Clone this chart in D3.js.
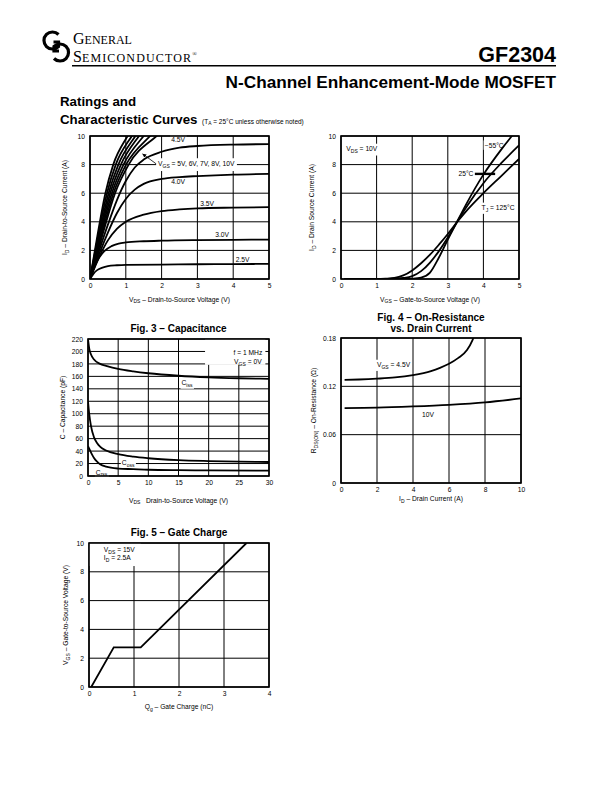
<!DOCTYPE html>
<html>
<head>
<meta charset="utf-8">
<script src="https://cdn.jsdelivr.net/npm/d3@7"></script>
<style>
  body { margin: 0; background: #fff; }
  svg { display: block; }
  text { font-family: "Liberation Sans", Arial, Helvetica, sans-serif; fill: #000; }
  text.serif { font-family: "Liberation Serif", "DejaVu Serif", serif; }
</style>
</head>
<body>
<svg id="page" width="612" height="792"></svg>
<script>
// ---- Fig. 1: output characteristics, ID vs VDS ----
const fig1XTicks = [0, 1, 2, 3, 4, 5];
const fig1YTicks = [0, 2, 4, 6, 8, 10];
const vgs25 = [[0,0],[0.1,0.38],[0.2,0.62],[0.35,0.8],[0.5,0.9],[0.75,0.96],[1,0.99],[2,1.01],[3,1.03],[4,1.04],[5,1.06]];
const vgs30 = [[0,0],[0.1,0.7],[0.2,1.25],[0.4,1.95],[0.6,2.3],[0.8,2.48],[1,2.56],[1.5,2.64],[2,2.68],[3,2.72],[4,2.74],[5,2.76]];
const vgs35 = [[0,0],[0.25,1.5],[0.5,2.7],[0.75,3.5],[1,4.0],[1.5,4.5],[2,4.75],[2.5,4.87],[3,4.94],[4,4.99],[5,5.02]];
const vgs40 = [[0,0],[0.25,1.7],[0.5,3.25],[0.75,4.6],[1,5.6],[1.25,6.25],[1.5,6.65],[2,7.0],[2.5,7.13],[3,7.2],[4,7.3],[5,7.35]];
const vgs45 = [[0,0],[0.25,1.95],[0.5,3.8],[0.75,5.5],[1,6.85],[1.25,7.8],[1.5,8.35],[2,8.9],[2.5,9.18],[3,9.3],[4,9.4],[5,9.43]];
// the steep bundle (VGS = 5V ... 10V), least steep first
const steepCurves = [
  [[0,0],[0.34,3],[0.7,6],[1.08,8],[1.86,10],[2.33,11]],
  [[0,0],[0.315,3],[0.655,6],[1.008,8],[1.68,10],[2.08,11]],
  [[0,0],[0.29,3],[0.61,6],[0.936,8],[1.5,10],[1.84,11]],
  [[0,0],[0.27,3],[0.565,6],[0.864,8],[1.37,10],[1.67,11]],
  [[0,0],[0.25,3],[0.52,6],[0.792,8],[1.27,10],[1.56,11]],
  [[0,0],[0.225,3],[0.475,6],[0.72,8],[1.17,10],[1.44,11]],
  [[0,0],[0.205,3],[0.43,6],[0.65,8],[1.05,10],[1.29,11]]
];

// ---- Fig. 2: transfer characteristics, ID vs VGS ----
const fig2XTicks = [0, 1, 2, 3, 4, 5];
const fig2YTicks = [0, 2, 4, 6, 8, 10];
const tj125 = [[0.1,0],[1.0,0],[1.25,0.02],[1.5,0.07],[1.75,0.25],[2,0.6],[2.25,1.1],[2.5,1.7],[2.75,2.4],[3,3.15],[3.25,3.95],[3.5,4.7],[4,6.0],[4.5,7.2],[5,8.4]];
const tj25 = [[0.1,0],[1.3,0],[1.5,0.02],[1.75,0.07],[2,0.2],[2.25,0.55],[2.5,1.15],[2.75,1.95],[3,2.9],[3.25,3.95],[3.5,4.95],[4,6.7],[4.5,8.1],[5,9.35]];
const tjm55 = [[0.1,0],[1.8,0],[2,0.02],[2.25,0.1],[2.5,0.45],[2.75,1.5],[3,2.75],[3.25,3.95],[3.5,5.15],[4,7.3],[4.5,9.05],[4.8,10],[5,10.6]];

// ---- Fig. 3: capacitance ----
const fig3XTicks = [0, 5, 10, 15, 20, 25, 30];
const fig3YTicks = [0, 20, 40, 60, 80, 100, 120, 140, 160, 180, 200, 220];
const ciss = [[0,220],[0.2,205],[0.5,195],[1,187],[2,180],[3,177],[5,172],[7.5,168],[10,165],[15,161],[20,158.5],[25,157],[30,156]];
const coss = [[0,120],[0.2,100],[0.5,80],[1,62],[1.5,53],[2,47],[3,41],[5,35],[7.5,31],[10,28.5],[15,25.5],[20,24],[25,23],[30,22.5]];
const crss = [[0,48],[0.3,42],[0.7,34],[1,29],[1.5,23],[2,19],[3,15],[5,12],[7.5,11],[10,10],[15,9.3],[20,9],[30,8.7]];

// ---- Fig. 4: on-resistance vs drain current ----
const fig4XTicks = [0, 2, 4, 6, 8, 10];
const fig4YTicks = [0, 0.06, 0.12, 0.18];
const rdsVgs45 = [[0.2,0.128],[1,0.1285],[2,0.1295],[3,0.131],[4,0.134],[5,0.139],[5.5,0.143],[6,0.148],[6.5,0.155],[7,0.165],[7.3,0.177],[7.45,0.186]];
const rdsVgs10 = [[0.2,0.093],[2,0.0935],[4,0.095],[6,0.097],[8,0.1],[10,0.105]];

// ---- Fig. 5: gate charge ----
const fig5XTicks = [0, 1, 2, 3, 4];
const fig5YTicks = [0, 2, 4, 6, 8, 10];
const gateCharge = [[0.05,0],[0.55,2.75],[1.15,2.75],[3.5,10]];

const svg = d3.select('#page');
const SMALL = 6.7;

// text with subscripts: parts = [[text, isSub], ...]
function rich(sel, parts) {
  let down = false;
  parts.forEach(p => {
    const t = sel.append('tspan').text(p[0]);
    if (p[1]) {
      t.attr('font-size', '0.75em');
      if (!down) { t.attr('dy', 1.8); down = true; }
    } else if (down) {
      t.attr('dy', -1.8); down = false;
    }
  });
}

// ---- header ----
const logo = svg.append('g').attr('fill', 'none').attr('stroke', '#000').attr('stroke-width', 3.2);
logo.append('path').attr('d', 'M58.5,34.5 A8.5,8.5 0 1 0 58.5,46.5 L58.5,42 L53.5,42');
logo.append('path').attr('d', 'M54,58.5 A8.5,8.5 0 1 0 54,46.5 L54,51 L59,51');

// company name: small caps drawn by size
const gen = svg.append('text').attr('class', 'serif').attr('x', 73).attr('y', 44);
gen.append('tspan').attr('font-size', 16).text('G');
gen.append('tspan').attr('font-size', 12).text('ENERAL');
const semi = svg.append('text').attr('class', 'serif').attr('x', 73).attr('y', 62);
semi.append('tspan').attr('font-size', 16).text('S');
semi.append('tspan').attr('font-size', 12).attr('letter-spacing', 1.15).text('EMICONDUCTOR');
semi.append('tspan').attr('font-size', 6).attr('dy', -6).text('®');

svg.append('text').attr('x', 556).attr('y', 61.5).attr('text-anchor', 'end')
  .attr('font-size', 21.5).attr('font-weight', 'bold').text('GF2304');
svg.append('line').attr('x1', 72).attr('x2', 556).attr('y1', 65.8).attr('y2', 65.8)
  .attr('stroke', '#000').attr('stroke-width', 1.6);
svg.append('text').attr('x', 556).attr('y', 88).attr('text-anchor', 'end')
  .attr('font-size', 17.2).attr('font-weight', 'bold').text('N-Channel Enhancement-Mode MOSFET');
svg.append('text').attr('x', 60).attr('y', 106).attr('font-size', 13.3)
  .attr('font-weight', 'bold').text('Ratings and');
svg.append('text').attr('x', 60).attr('y', 124).attr('font-size', 13.3)
  .attr('font-weight', 'bold').text('Characteristic Curves');
const note = svg.append('text').attr('x', 202).attr('y', 123.5).attr('font-size', 6.5);
rich(note, [['(T'], ['A', 1], [' = 25°C unless otherwise noted)']]);

// ---- chart scaffold ----
function makeChart(o) {
  const x = d3.scaleLinear().domain(o.xDomain).range([o.left, o.left + o.width]);
  const y = d3.scaleLinear().domain(o.yDomain).range([o.top + o.height, o.top]);
  const g = svg.append('g');

  g.append('clipPath').attr('id', 'clip' + o.id)
    .append('rect').attr('x', o.left).attr('y', o.top).attr('width', o.width).attr('height', o.height);

  // 1. grid
  const grid = g.append('g').attr('stroke', '#000').attr('stroke-width', 1);
  grid.selectAll('line.v').data(o.xTicks).join('line').attr('class', 'v')
    .attr('x1', d => x(d)).attr('x2', d => x(d))
    .attr('y1', o.top).attr('y2', o.top + o.height);
  grid.selectAll('line.h').data(o.yTicks).join('line').attr('class', 'h')
    .attr('x1', o.left).attr('x2', o.left + o.width)
    .attr('y1', d => y(d)).attr('y2', d => y(d));

  const boxes = g.append('g').attr('fill', '#fff');
  const curves = g.append('g').attr('clip-path', `url(#clip${o.id})`)
    .attr('fill', 'none').attr('stroke', '#000').attr('stroke-width', 1.8);
  const texts = g.append('g');

  g.append('rect').attr('x', o.left).attr('y', o.top).attr('width', o.width).attr('height', o.height)
    .attr('fill', 'none').attr('stroke', '#000').attr('stroke-width', 1.6);

  // 2. axes (labels only, the grid does the ticks)
  const xa = g.append('g').attr('transform', `translate(0,${o.top + o.height})`)
    .call(d3.axisBottom(x).tickValues(o.xTicks).tickSize(0).tickPadding(4).tickFormat(o.xFormat || d3.format('')));
  const ya = g.append('g').attr('transform', `translate(${o.left},0)`)
    .call(d3.axisLeft(y).tickValues(o.yTicks).tickSize(0).tickPadding(5).tickFormat(o.yFormat || d3.format('')));
  [xa, ya].forEach(a => {
    a.select('.domain').remove();
    a.attr('font-family', null).attr('font-size', SMALL);
  });

  const xt = g.append('text').attr('x', o.left + o.width / 2).attr('y', o.xTitleY)
    .attr('text-anchor', 'middle').attr('font-size', SMALL);
  if (o.xTitlePre) xt.style('white-space', 'pre');
  rich(xt, o.xTitle);
  const yt = g.append('text')
    .attr('transform', `translate(${o.yTitleX},${o.top + o.height / 2}) rotate(-90)`)
    .attr('text-anchor', 'middle').attr('dy', '0.35em').attr('font-size', SMALL);
  rich(yt, o.yTitle);

  (o.title || []).forEach((t, i) => {
    g.append('text').attr('x', o.left + o.width / 2).attr('y', o.titleY + i * 11)
      .attr('text-anchor', 'middle').attr('font-size', 10).attr('font-weight', 'bold').text(t);
  });

  const line = d3.line().x(d => x(d[0])).y(d => y(d[1])).curve(d3.curveMonotoneX);
  return { x, y, g, boxes, curves, texts, line };
}

function label(ch, xv, yv, parts, pad) {
  const t = ch.texts.append('text').attr('x', ch.x(xv)).attr('y', ch.y(yv))
    .attr('dy', '0.35em').attr('font-size', SMALL);
  rich(t, parts);
  if (pad != null) {
    const b = t.node().getBBox();
    ch.boxes.append('rect').attr('x', b.x - pad).attr('y', b.y - pad)
      .attr('width', b.width + 2 * pad).attr('height', b.height + 2 * pad);
  }
  return t;
}

function drawCurves(ch, list, curve) {
  const line = curve ? ch.line.curve(curve) : ch.line;
  ch.curves.selectAll(null).data(list).join('path').attr('d', d => line(d));
}

// ---- Fig. 1 ----
const c1 = makeChart({
  id: 1, left: 90, top: 136, width: 179, height: 143,
  xDomain: [0, 5], yDomain: [0, 10], xTicks: fig1XTicks, yTicks: fig1YTicks,
  xTitle: [['V'], ['DS', 1], [' – Drain-to-Source Voltage (V)']], xTitleY: 301.5,
  yTitle: [['I'], ['D', 1], [' – Drain-to-Source Current (A)']], yTitleX: 65
});
label(c1, 2.27, 9.72, [['4.5V']], 1.2);
label(c1, 1.9, 8.05, [['V'], ['GS', 1], [' = 5V, 6V, 7V, 8V, 10V']], 2);
label(c1, 2.27, 6.8, [['4.0V']], 1.2);
label(c1, 3.08, 5.3, [['3.5V']], 1);
label(c1, 3.5, 3.1, [['3.0V']], 1.2);
label(c1, 4.07, 1.35, [['2.5V']], 1.2);
drawCurves(c1, [vgs25, vgs30, vgs35, vgs40, vgs45].concat(steepCurves));
svg.append('defs').append('marker').attr('id', 'arrow')
  .attr('viewBox', '0 0 10 10').attr('refX', 9).attr('refY', 5)
  .attr('markerWidth', 5).attr('markerHeight', 5).attr('orient', 'auto')
  .append('path').attr('d', 'M0,0 L10,5 L0,10 z').attr('fill', '#000');
c1.texts.append('line')
  .attr('x1', c1.x(1.85)).attr('y1', c1.y(8.05))
  .attr('x2', c1.x(1.47)).attr('y2', c1.y(8.75))
  .attr('stroke', '#000').attr('stroke-width', 0.8).attr('marker-end', 'url(#arrow)');

// ---- Fig. 2 ----
const c2 = makeChart({
  id: 2, left: 341, top: 136, width: 178, height: 143,
  xDomain: [0, 5], yDomain: [0, 10], xTicks: fig2XTicks, yTicks: fig2YTicks,
  xTitle: [['V'], ['GS', 1], [' – Gate-to-Source Voltage (V)']], xTitleY: 301.5,
  yTitle: [['I'], ['D', 1], [' – Drain Source Current (A)']], yTitleX: 312
});
label(c2, 0.15, 9.1, [['V'], ['DS', 1], [' = 10V']], 1.5);
label(c2, 4.04, 9.35, [['−55°C']], 1.2);
label(c2, 3.3, 7.35, [['25°C']], 1.2);
label(c2, 3.95, 5.0, [['T'], ['J', 1], [' = 125°C']], 1.2);
drawCurves(c2, [tj125, tj25, tjm55]);
c2.texts.append('line')
  .attr('x1', c2.x(3.76)).attr('x2', c2.x(4.33)).attr('y1', c2.y(7.35)).attr('y2', c2.y(7.35))
  .attr('stroke', '#000').attr('stroke-width', 2.4);

// ---- Fig. 3 ----
const c3 = makeChart({
  id: 3, left: 88, top: 339, width: 181, height: 137,
  xDomain: [0, 30], yDomain: [0, 220], xTicks: fig3XTicks, yTicks: fig3YTicks,
  xTitle: [['V'], ['DS', 1], ['   Drain-to-Source Voltage (V)']], xTitleY: 502.5, xTitlePre: true,
  yTitle: [['C – Capacitance (pF)']], yTitleX: 63,
  title: ['Fig. 3 – Capacitance'], titleY: 331.5
});
c3.boxes.append('rect').attr('x', c3.x(19.4)).attr('y', c3.y(220))
  .attr('width', c3.x(29.4) - c3.x(19.4)).attr('height', c3.y(178.5) - c3.y(220));
c3.texts.append('text').attr('x', c3.x(26.5)).attr('y', c3.y(198)).attr('dy', '0.35em')
  .attr('text-anchor', 'middle').attr('font-size', SMALL).text('f = 1 MHz');
rich(c3.texts.append('text').attr('x', c3.x(26.5)).attr('y', c3.y(184)).attr('dy', '0.35em')
  .attr('text-anchor', 'middle').attr('font-size', SMALL), [['V'], ['GS', 1], [' = 0V']]);
label(c3, 15.5, 150, [['C'], ['iss', 1]], 1);
label(c3, 5.6, 21.5, [['C'], ['oss', 1]], 1);
label(c3, 1.3, 6, [['C'], ['rss', 1]], 1);
drawCurves(c3, [ciss, coss, crss]);

// ---- Fig. 4 ----
const c4 = makeChart({
  id: 4, left: 341, top: 338, width: 180, height: 145,
  xDomain: [0, 10], yDomain: [0, 0.18], xTicks: fig4XTicks, yTicks: fig4YTicks,
  yFormat: d => d === 0 ? '0' : d3.format('.2f')(d),
  xTitle: [['I'], ['D', 1], [' – Drain Current (A)']], xTitleY: 501,
  yTitle: [['R'], ['DS(ON)', 1], [' – On-Resistance (Ω)']], yTitleX: 314,
  title: ['Fig. 4 – On-Resistance', 'vs. Drain Current'], titleY: 320.5
});
label(c4, 2.0, 0.147, [['V'], ['GS', 1], [' = 4.5V']], 1.2);
label(c4, 4.5, 0.0846, [['10V']], 1.2);
drawCurves(c4, [rdsVgs45, rdsVgs10]);

// ---- Fig. 5 ----
const c5 = makeChart({
  id: 5, left: 89, top: 543, width: 180, height: 144,
  xDomain: [0, 4], yDomain: [0, 10], xTicks: fig5XTicks, yTicks: fig5YTicks,
  xTitle: [['Q'], ['g', 1], [' – Gate Charge (nC)']], xTitleY: 709,
  yTitle: [['V'], ['GS', 1], [' – Gate-to-Source Voltage (V)']], yTitleX: 66,
  title: ['Fig. 5 – Gate Charge'], titleY: 535.5
});
c5.boxes.append('rect').attr('x', c5.x(0)).attr('y', c5.y(10))
  .attr('width', c5.x(1.15) - c5.x(0)).attr('height', c5.y(8.4) - c5.y(10));
label(c5, 0.33, 9.55, [['V'], ['DS', 1], [' = 15V']]);
label(c5, 0.33, 9.0, [['I'], ['D', 1], [' = 2.5A']]);
drawCurves(c5, [gateCharge], d3.curveLinear);
</script>
</body>
</html>
